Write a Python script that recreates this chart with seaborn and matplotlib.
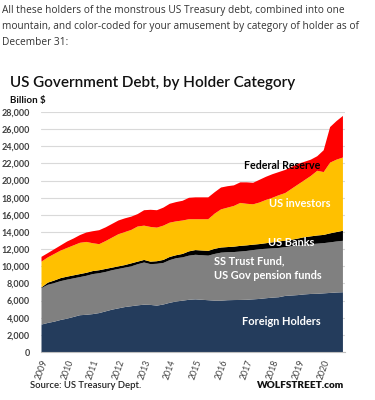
import numpy as np
import matplotlib
matplotlib.use('Agg')
import matplotlib.pyplot as plt
import seaborn as sns

# ------------------------------------------------------------ #
# data: quarterly, Q1 2009 .. Q4 2020, billion $ (cumulative tops)
# ------------------------------------------------------------ #
years = [str(y) for y in range(2009, 2021)]

foreign_top = [3260, 3450, 3600, 3800, 3950, 4150, 4350, 4400, 4480, 4600, 4800, 5000,
               5150, 5300, 5400, 5500, 5580, 5550, 5470, 5600, 5800, 5950, 6050, 6150,
               6200, 6150, 6100, 6050, 6050, 6100, 6120, 6130, 6150, 6200, 6250, 6330,
               6400, 6450, 6600, 6650, 6700, 6780, 6830, 6850, 6900, 6950, 7000, 7030]
intragov_top = [7520, 7900, 8100, 8330, 8500, 8650, 8800, 8950, 9150, 9250, 9400, 9600,
                9750, 9900, 10050, 10300, 10500, 10310, 10350, 10450, 10780, 11000, 11100, 11300,
                11400, 11350, 11300, 11500, 11650, 11700, 11720, 11780, 11850, 11950, 12050, 12100,
                12150, 12200, 12300, 12400, 12500, 12580, 12640, 12700, 12760, 12850, 12950, 13030]
banks_top = [7600, 8150, 8400, 8680, 8850, 9000, 9150, 9300, 9500, 9600, 9750, 9900,
             10050, 10200, 10400, 10600, 10800, 10600, 10650, 10800, 11150, 11350, 11500, 11800,
             11950, 11900, 11860, 12100, 12250, 12300, 12350, 12440, 12500, 12580, 12650, 12750,
             12850, 12950, 13050, 13150, 13300, 13450, 13550, 13650, 13720, 13900, 14050, 14200]
investors_top = [10600, 11100, 11500, 11900, 12200, 12500, 12800, 12900, 12750, 12640, 13000, 13400,
                 13800, 14050, 14300, 14700, 14800, 14650, 14570, 14800, 15150, 15300, 15400, 15550,
                 15550, 15550, 15550, 16200, 16700, 16900, 17100, 17450, 17350, 17290, 17500, 17800,
                 18050, 18350, 18600, 19100, 19600, 20100, 20600, 21200, 21050, 22150, 22500, 22750]
total_top = [11160, 11600, 12050, 12500, 12950, 13300, 13700, 14000, 14150, 14270, 14600, 15000,
             15400, 15650, 15850, 16150, 16600, 16650, 16600, 16900, 17350, 17550, 17700, 18050,
             18100, 18100, 18100, 18700, 19250, 19400, 19500, 19850, 19850, 19800, 20150, 20500,
             20800, 21050, 21300, 21650, 22000, 22250, 22500, 22900, 23600, 26300, 27000, 27600]

tops = np.array([foreign_top, intragov_top, banks_top, investors_top, total_top])
layers = np.diff(np.vstack([np.zeros(len(total_top)), tops]), axis=0)
quarters = np.arange(len(total_top))
colors = ['#243c5c', '#808080', '#000000', '#ffc000', '#ff0000']

# ------------------------------------------------------------ #
# figure
# ------------------------------------------------------------ #
sns.set_style('white')
plt.rcParams['font.family'] = ['Lato', 'DejaVu Sans']

fig = plt.figure(figsize=(3.75, 4.0), dpi=100)
ax = fig.add_axes([41 / 375, 1 - 352 / 400, 304 / 375, 240 / 400])

ax.stackplot(quarters, layers, colors=colors, linewidth=0, zorder=2)

ax.set_xlim(0, len(total_top) - 0.6)
ax.set_ylim(0, 28000)
ax.set_yticks(range(0, 28001, 2000))
ax.set_yticklabels([f'{v:,}' for v in range(0, 28001, 2000)],
                   fontsize=6.5, color='#404040', fontweight='bold')
ax.yaxis.grid(True, color='#d9d9d9', linewidth=0.8, zorder=0)
ax.set_axisbelow(True)
ax.tick_params(axis='y', length=0, pad=8)

ax.set_xticks(quarters[::4])
ax.set_xticklabels(years, rotation=70, ha='right', va='top',
                   fontsize=6.3, color='#404040', rotation_mode='anchor')
ax.tick_params(axis='x', length=0, pad=5)

for s in ['top', 'right', 'left']:
    ax.spines[s].set_visible(False)
ax.spines['bottom'].set_color('#bfbfbf')
ax.spines['bottom'].set_linewidth(0.8)

# labels inside the mountain
ax.text(37.6, 21800, 'Federal Reserve', fontsize=7.7, fontweight='bold', color='black', ha='center', va='center')
ax.text(40.3, 17300, 'US investors', fontsize=7.9, fontweight='bold', color='white', ha='center', va='center')
ax.text(39.0, 12800, 'US Banks', fontsize=7.9, fontweight='bold', color='white', ha='center', va='center')
ax.text(27, 9800, 'SS Trust Fund,\nUS Gov pension funds', fontsize=7.9, fontweight='bold', color='white',
        ha='left', va='center', linespacing=1.35)
ax.text(37.5, 3600, 'Foreign Holders', fontsize=7.9, fontweight='bold', color='white', ha='center', va='center')

# surrounding text
fig.text(2 / 375, 1 - 5 / 400,
         'All these holders of the monstrous US Treasury debt, combined into one\n'
         'mountain, and color-coded for your amusement by category of holder as of\n'
         'December 31:',
         family=['Open Sans', 'DejaVu Sans'], fontsize=7.3, color='#333333',
         ha='left', va='top', linespacing=1.65)
fig.text(10 / 375, 1 - 83 / 400, 'US Government Debt, by Holder Category',
         fontsize=11, color='#111111', ha='left', va='center', fontweight='semibold')
fig.text(10 / 375, 1 - 101 / 400, 'Billion $', fontsize=7, color='#111111',
         ha='left', va='center', fontweight='bold')
fig.text(30 / 375, 1 - 386 / 400, 'Source: US Treasury Dept.', fontsize=6.8, color='#222222',
         ha='left', va='center', fontweight='semibold')
fig.text(344 / 375, 1 - 386 / 400, 'WOLFSTREET.com', fontsize=7.2, color='#111111',
         ha='right', va='center', fontweight='heavy')

fig.savefig('out.png', dpi=100)
